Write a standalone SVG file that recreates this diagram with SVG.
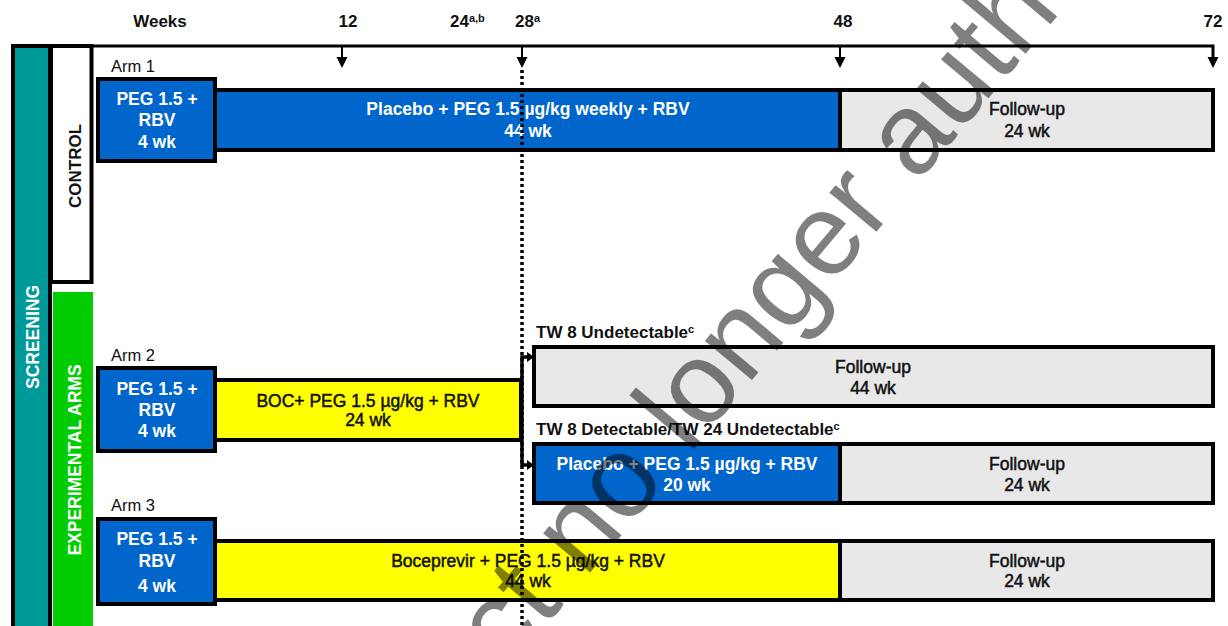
<svg xmlns="http://www.w3.org/2000/svg" width="1228" height="626" viewBox="0 0 1228 626">
<style>
.bx{stroke:#000;stroke-width:4}
.blue{fill:#0066cc}
.yel{fill:#ffff00}
.gry{fill:#e8e8e8}
.f{font-family:"Liberation Sans",Arial,sans-serif}
.wt{font-family:"Liberation Sans",Arial,sans-serif;font-weight:bold;font-size:17.5px;fill:#fff;text-anchor:middle}
.bt{font-family:"Liberation Sans",Arial,sans-serif;font-size:17.5px;fill:#111;text-anchor:middle;stroke:#111;stroke-width:0.5}
.hd{font-family:"Liberation Sans",Arial,sans-serif;font-weight:bold;font-size:17px;fill:#111}
.arm{font-family:"Liberation Sans",Arial,sans-serif;font-size:16.5px;fill:#111}
.sup{font-size:11px}
.ln{stroke:#000;fill:none}
</style>
<defs>
<path id="ah" d="M-5.5,0 L5.5,0 L0,11 Z" fill="#000"/>
</defs>
<rect width="1228" height="626" fill="#fff"/>

<g id="screening">
<rect x="13" y="46" width="37" height="590" fill="#009999" class="bx"/>
<text class="wt" transform="translate(39,337) rotate(-90)">SCREENING</text>
</g>
<g id="control">
<rect x="51" y="46" width="40.5" height="236" fill="#fff" class="bx" stroke-width="3"/>
<text class="hd" text-anchor="middle" font-size="17.5" transform="translate(81,166) rotate(-90)">CONTROL</text>
</g>
<g id="experimental">
<rect x="53" y="292" width="40" height="340" fill="#00cc00"/>
<text class="wt" transform="translate(81,460) rotate(-90)">EXPERIMENTAL ARMS</text>
</g>

<g id="axis-labels">
<text class="hd" x="160" y="27" text-anchor="middle">Weeks</text>
<text class="hd" x="348" y="27" text-anchor="middle">12</text>
<text class="hd" x="450" y="27">24<tspan class="sup" dy="-5">a,b</tspan></text>
<text class="hd" x="515" y="27">28<tspan class="sup" dy="-5">a</tspan></text>
<text class="hd" x="843" y="27" text-anchor="middle">48</text>
<text class="hd" x="1213" y="27" text-anchor="middle">72</text>
</g>

<g id="arm1">
<text class="arm" x="111" y="72">Arm 1</text>
<rect x="215" y="90" width="625" height="60" class="bx blue"/>
<rect x="840" y="90" width="373" height="60" class="bx gry"/>
<text class="wt" x="528" y="115">Placebo + PEG 1.5 µg/kg weekly + RBV</text>
<text class="wt" x="528" y="137">44 wk</text>
<text class="bt" x="1027" y="115">Follow-up</text>
<text class="bt" x="1027" y="137">24 wk</text>
<rect x="98" y="79" width="117" height="82" class="bx blue"/>
<text class="wt" x="157" y="105">PEG 1.5 +</text>
<text class="wt" x="157" y="126">RBV</text>
<text class="wt" x="157" y="148">4 wk</text>
</g>

<g id="arm2">
<text class="arm" x="111" y="361">Arm 2</text>
<rect x="215" y="380" width="306" height="60" class="bx yel"/>
<text class="bt" x="368" y="407">BOC+ PEG 1.5 µg/kg + RBV</text>
<text class="bt" x="368" y="426">24 wk</text>
<rect x="98" y="368" width="117" height="83" class="bx blue"/>
<text class="wt" x="157" y="395">PEG 1.5 +</text>
<text class="wt" x="157" y="416">RBV</text>
<text class="wt" x="157" y="437">4 wk</text>
</g>

<g id="tw8-undetectable">
<text class="hd" x="536" y="338">TW 8 Undetectable<tspan class="sup" dy="-5">c</tspan></text>
<rect x="534" y="347" width="679" height="59" class="bx gry"/>
<text class="bt" x="873" y="373">Follow-up</text>
<text class="bt" x="873" y="394">44 wk</text>
</g>

<g id="tw8-detectable">
<text class="hd" x="536" y="435">TW 8 Detectable/TW 24 Undetectable<tspan class="sup" dy="-5">c</tspan></text>
<rect x="534" y="444" width="306" height="59" class="bx blue"/>
<rect x="840" y="444" width="373" height="59" class="bx gry"/>
<text class="wt" x="687" y="470">Placebo + PEG 1.5 µg/kg + RBV</text>
<text class="wt" x="687" y="491">20 wk</text>
<text class="bt" x="1027" y="470">Follow-up</text>
<text class="bt" x="1027" y="491">24 wk</text>
</g>

<g id="arm3">
<text class="arm" x="111" y="511">Arm 3</text>
<rect x="215" y="541" width="625" height="59" class="bx yel"/>
<rect x="840" y="541" width="373" height="59" class="bx gry"/>
<text class="bt" x="528" y="567">Boceprevir + PEG 1.5 µg/kg + RBV</text>
<text class="bt" x="528" y="587">44 wk</text>
<text class="bt" x="1027" y="567">Follow-up</text>
<text class="bt" x="1027" y="587">24 wk</text>
<rect x="98" y="519" width="117" height="85" class="bx blue"/>
<text class="wt" x="157" y="545">PEG 1.5 +</text>
<text class="wt" x="157" y="567">RBV</text>
<text class="wt" x="157" y="592">4 wk</text>
</g>

<g id="connectors">
<path class="ln" stroke-width="3" d="M11,46 H1213 V58"/>
<path class="ln" stroke-width="2" d="M342,47 V60 M522,47 V60 M840,47 V60"/>
<use href="#ah" x="342" y="57"/>
<use href="#ah" x="522" y="57"/>
<use href="#ah" x="840" y="57"/>
<use href="#ah" x="1213" y="57"/>
<line class="ln" x1="522" y1="70" x2="522" y2="626" stroke-width="3.5" stroke-dasharray="3 3"/>
<path class="ln" stroke-width="3.5" d="M528,357 H522 V465 H528"/>
<path d="M527,352 L534,357 L527,362 Z M527,460 L534,465 L527,470 Z" fill="#000"/>
</g>

<g id="watermark">
<text class="f" font-size="116" fill="#000" fill-opacity="0.5" transform="translate(-20,1300) rotate(-50)">Medicinal product no longer authorised</text>
</g>
</svg>
